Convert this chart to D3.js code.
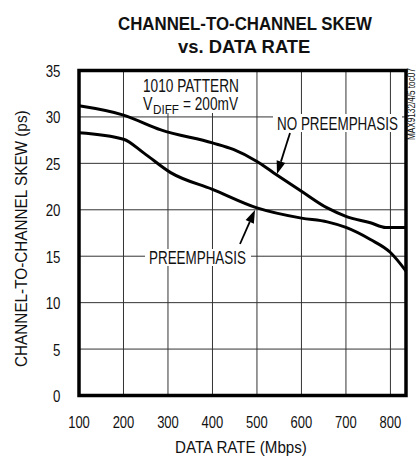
<!DOCTYPE html>
<html><head><meta charset="utf-8">
<script src="https://cdn.jsdelivr.net/npm/d3@7"></script>
<style>
body{margin:0;background:#fff;}
text{font-family:"Liberation Sans",Arimo,Arial,sans-serif;fill:#111;}
</style></head>
<body><svg id="c" width="420" height="457"></svg>
<script>
const xTicks = [100,200,300,400,500,600,700,800];
const yTicks = [0,5,10,15,20,25,30,35];
const noPreX = [100,200,284,400,447,500,537,600,658,700,755,790,835];
const noPreY = [31.2,30.2,28.6,27.2,26.5,25.2,24.0,22.0,20.2,19.3,18.6,18.1,18.1];
const preX = [100,200,246,306,400,500,600,658,700,755,800,835];
const preY = [28.3,27.6,26.1,24.0,22.2,20.2,19.1,18.7,18.1,16.8,15.4,13.4];

const svg = d3.select("#c");
const L=79, R=406, T=70.5, B=395.5;
const x = d3.scaleLinear().domain([100,835]).range([L,R]);
const y = d3.scaleLinear().domain([0,35]).range([B,T]);

// text condensed to a target width via horizontal scale
function txt(parent, x0, y0, s, size, w, anchor, rot){
  const gg = parent.append("g");
  const t = gg.append("text").attr("x",0).attr("y",0).attr("font-size",size).text(s);
  const w0 = t.node().getComputedTextLength();
  const sx = w ? w/w0 : 1;
  const ww = w0*sx;
  const off = anchor==="end" ? -ww : (anchor==="start" ? 0 : -ww/2);
  gg.attr("transform",`translate(${x0},${y0})${rot?` rotate(${rot})`:""} translate(${off},0) scale(${sx},1)`);
  return t;
}

// grid
const g = svg.append("g");
g.selectAll("line.v").data(xTicks.slice(1)).enter().append("line")
 .attr("x1",d=>x(d)).attr("x2",d=>x(d)).attr("y1",T).attr("y2",B)
 .attr("stroke","#333").attr("stroke-width",1);
g.selectAll("line.h").data(yTicks.slice(1,-1)).enter().append("line")
 .attr("x1",L).attr("x2",R).attr("y1",d=>y(d)).attr("y2",d=>y(d))
 .attr("stroke","#333").attr("stroke-width",1);

// tick labels
xTicks.forEach(d=>txt(svg, x(d), 428, String(d), 17, 21.7, "middle"));
yTicks.forEach(d=>txt(svg, 60.5, y(d)+6.5, String(d), 17, String(d).length*7.4, "end"));

// label boxes (white)
function box(x0,y0,x1,y1){
  svg.append("rect").attr("x",x0).attr("y",y0).attr("width",x1-x0).attr("height",y1-y0).attr("fill","#fff");
}
box(133, T, 249, 113);
box(273, 114, 402, 132);
box(145, 249, 251, 266);

// curves
const line = d3.line().x(d=>x(d[0])).y(d=>y(d[1])).curve(d3.curveMonotoneX);
svg.append("path").datum(noPreX.map((v,i)=>[v,noPreY[i]])).attr("d",line)
 .attr("fill","none").attr("stroke","#000").attr("stroke-width",3);
svg.append("path").datum(preX.map((v,i)=>[v,preY[i]])).attr("d",line)
 .attr("fill","none").attr("stroke","#000").attr("stroke-width",3);

// frame
svg.append("rect").attr("x",L).attr("y",T).attr("width",R-L).attr("height",B-T)
 .attr("fill","none").attr("stroke","#000").attr("stroke-width",3.5);

// annotation texts
txt(svg, 191, 92, "1010 PATTERN", 17.5, 96);
txt(svg, 143, 110, "V", 17.5, 9.5, "start");
txt(svg, 153, 113.5, "DIFF", 13, 26, "start");
txt(svg, 238, 110, "= 200mV", 17.5, 55, "end");
txt(svg, 337.5, 130, "NO PREEMPHASIS", 17.5, 121);
txt(svg, 197.5, 264, "PREEMPHASIS", 17.5, 97);

// arrows
function arrow(x1,y1,x2,y2){
  const a=Math.atan2(y2-y1,x2-x1), len=13, wd=4.5;
  const bx=x2-len*Math.cos(a), by=y2-len*Math.sin(a);
  svg.append("line").attr("x1",x1).attr("y1",y1).attr("x2",bx).attr("y2",by).attr("stroke","#000").attr("stroke-width",1.8);
  const px=-Math.sin(a)*wd, py=Math.cos(a)*wd;
  svg.append("path").attr("d",`M${x2},${y2}L${bx+px},${by+py}L${bx-px},${by-py}Z`).attr("fill","#000");
}
arrow(290,133,277,174);
arrow(240,244,255,210);

// titles
txt(svg, 242.5, 30, "CHANNEL-TO-CHANNEL SKEW", 18.5, 249).attr("font-weight","bold");
txt(svg, 241.5, 53, "vs. DATA RATE", 18.5, 127).attr("font-weight","bold");

// axis titles
txt(svg, 241, 453, "DATA RATE (Mbps)", 17, 132);
txt(svg, 27, 238.5, "CHANNEL-TO-CHANNEL SKEW (ps)", 17, 257, "middle", -90);
txt(svg, 415, 104, "MAX9132/4/5 toc07", 10, 72, "middle", -90);
</script></body></html>
